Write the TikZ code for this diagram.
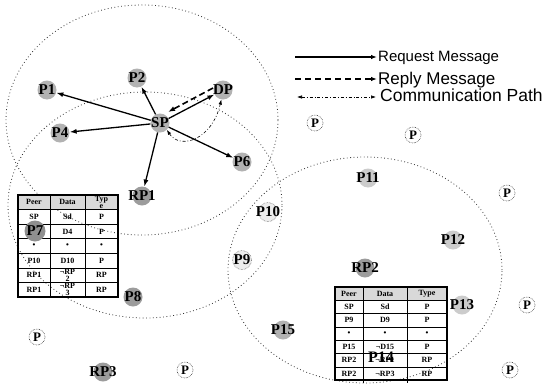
\documentclass[tikz,border=0pt]{standalone}
\usepackage{fontspec}
\setmainfont{Liberation Serif}
\newfontfamily\legendfont{Liberation Sans}
\usetikzlibrary{arrows.meta}
\newcommand\peerfont{\bfseries\fontsize{15}{15}\selectfont}
\newcommand\cellfont{\bfseries\fontsize{8}{8}\selectfont}
\begin{document}
\begin{tikzpicture}[x=1pt,y=-1pt,
  rangeline/.style={draw=black!80, line width=0.8pt, dash pattern=on 0.8pt off 2.6pt},
  peer/.style={circle, fill=gray!60, inner sep=0pt, minimum size=19pt},
  darkpeer/.style={peer, fill=gray!78},
  lightpeer/.style={peer, fill=gray!15, draw=black!70, densely dotted, line width=0.5pt},
  plainpeer/.style={circle, fill=white, draw=black!80, densely dotted, line width=0.6pt, inner sep=0pt, minimum size=16pt, font=\bfseries\fontsize{13}{13}\selectfont},
  req/.style={line width=1.3pt, -{Latex[length=7pt,width=5pt]}},
  rep/.style={line width=1.6pt, dash pattern=on 6pt off 3.5pt, -{Latex[length=7pt,width=5pt]}},
  comm/.style={line width=0.6pt, dash pattern=on 3pt off 2pt on 0.8pt off 2pt, {Latex[length=5pt,width=3.5pt]}-{Latex[length=5pt,width=3.5pt]}},
  cell/.style={inner sep=0pt, align=center, font=\cellfont},
  tline/.style={line width=0.5pt},
  tbox/.style={line width=1.4pt}
]
\useasboundingbox (0,0) rectangle (549,383);
\fill[white] (0,0) rectangle (549,383);

% ranges
\draw[rangeline] (142,120) ellipse [x radius=136pt, y radius=115pt];
\draw[rangeline] (145,205) ellipse [x radius=137pt, y radius=113pt];
\draw[rangeline] (365,270) ellipse [x radius=137pt, y radius=113pt];

% legend
\coordinate (l1a) at (295,57); \coordinate (l1b) at (377,57);
\coordinate (l2a) at (295,79); \coordinate (l2b) at (377,79);
\coordinate (l3a) at (297,97); \coordinate (l3b) at (376,97);
\draw[line width=1.2pt, -{Latex[length=6pt,width=4.5pt]}] (l1a) -- (l1b);
\draw[line width=1.4pt, dash pattern=on 6pt off 4pt, -{Latex[length=6pt,width=4.5pt]}] (l2a) -- (l2b);
\draw[comm] (l3a) -- (l3b);
\node[anchor=base west, inner sep=0pt, font=\legendfont\fontsize{15}{15}\selectfont] (t1) at (378,61) {Request Message};
\node[anchor=base west, inner sep=0pt, font=\legendfont\fontsize{17}{17}\selectfont] (t2) at (378,84) {Reply Message};
\node[anchor=base west, inner sep=0pt, font=\legendfont\fontsize{17.5}{17.5}\selectfont] (t3) at (380,101) {Communication Path};

% left table
\fill[gray!30] (18,195) rectangle (118,209.6);
\foreach \yy in {209.6,224.1,238.7,253.3,267.9,282.4} \draw[tline] (18,\yy) -- (118,\yy);
\draw[tline] (50,195) -- (50,297);
\draw[tline] (85,195) -- (85,297);
\draw[tbox] (18,195) rectangle (118,297);
\foreach [count=\i from 0] \a/\b/\c in {Peer/Data/{Typ\\[-1pt]e}, SP/Sd/P, {}/D4/P, •/•/•, P10/D10/P, RP1/{¬RP\\[-1pt]2}/RP, RP1/{¬RP\\[-1pt]3}/RP} {
  \node[cell] (la\i) at (34,{195+14.57*\i+7.3}) {\a};
  \node[cell] (lb\i) at (67.5,{195+14.57*\i+7.3}) {\b};
  \node[cell] (lc\i) at (101.5,{195+14.57*\i+7.3}) {\c};
}

% right table
\fill[gray!30] (335,287) rectangle (447,300.3);
\foreach \yy in {300.3,313.6,326.9,340.2,353.5,366.8} \draw[tline] (335,\yy) -- (447,\yy);
\draw[tline] (363,287) -- (363,383);
\draw[tline] (407,287) -- (407,383);
\draw[tbox] (335,287) rectangle (447,380.1);
\foreach [count=\i from 0] \a/\b/\c in {Peer/Data/Type, SP/Sd/P, P9/D9/P, •/•/•, P15/¬D15/P, RP2/¬RP1/RP, RP2/¬RP3/RP} {
  \node[cell] (ra\i) at (349,{287+13.3*\i+6.65}) {\a};
  \node[cell] (rb\i) at (385,{287+13.3*\i+6.65}) {\b};
  \node[cell] (rc\i) at (427,{287+13.3*\i+6.65}) {\c};
}

% peers
\node[peer, label={[font=\peerfont]center:P1}] (p1) at (47,90) {};
\node[peer, label={[font=\peerfont]center:P2}] (p2) at (137,78) {};
\node[peer, label={[font=\peerfont]center:DP}] (dp) at (223,90) {};
\node[peer, label={[font=\peerfont]center:SP}] (sp) at (160,123) {};
\node[peer, label={[font=\peerfont]center:P4}] (p4) at (60,133) {};
\node[peer, label={[font=\peerfont]center:P6}] (p6) at (242,162) {};
\node[darkpeer, label={[font=\peerfont]center:RP1}] (rp1) at (142,196) {};
\node[peer, fill=gray!40, label={[font=\peerfont]center:P11}] (p11) at (368,178) {};
\node[peer, fill=gray!40, label={[font=\peerfont]center:P12}] (p12) at (453,240) {};
\node[darkpeer, label={[font=\peerfont]center:RP2}] (rp2) at (365,268) {};
\node[peer, fill=gray!40, label={[font=\peerfont]center:P13}] (p13) at (462,305) {};
\node[peer, label={[font=\peerfont]center:P15}] (p15) at (283,330) {};
\node[lightpeer, label={[font=\peerfont]center:P10}] (p10) at (268,212) {};
\node[lightpeer, label={[font=\peerfont]center:P9}] (p9) at (242,260) {};
\node[darkpeer, label={[font=\peerfont]center:P8}] (p8) at (133,297) {};
\node[darkpeer, label={[font=\peerfont]center:RP3}] (rp3) at (103,372) {};
\node[darkpeer, fill=gray!88, minimum size=21pt, label={[font=\peerfont]center:P7}] (p7) at (35,231) {};
\node[inner sep=0pt, font=\bfseries\fontsize{16}{16}\selectfont] (p14) at (381,357) {P14};

\node[plainpeer] (q1) at (315,123) {P};
\node[plainpeer] (q2) at (413,135) {P};
\node[plainpeer] (q3) at (507,193) {P};
\node[plainpeer] (q4) at (527,305) {P};
\node[plainpeer] (q5) at (510,370) {P};
\node[plainpeer] (q6) at (37,337) {P};
\node[plainpeer] (q7) at (185,370) {P};

% messages
\draw[req] (sp) -- (p1);
\draw[req] (sp) -- (p2);
\draw[req] (sp) -- (dp);
\draw[req] (sp) -- (p4);
\draw[req] (sp) -- (p6);
\draw[req] (sp) -- (rp1);
\coordinate (r1) at (213,88);
\coordinate (r2) at (168,112);
\draw[rep] (r1) -- (r2);
\draw[comm] (sp.-45) .. controls (180,150) and (212,140) .. (dp.-100);
\end{tikzpicture}
\end{document}
